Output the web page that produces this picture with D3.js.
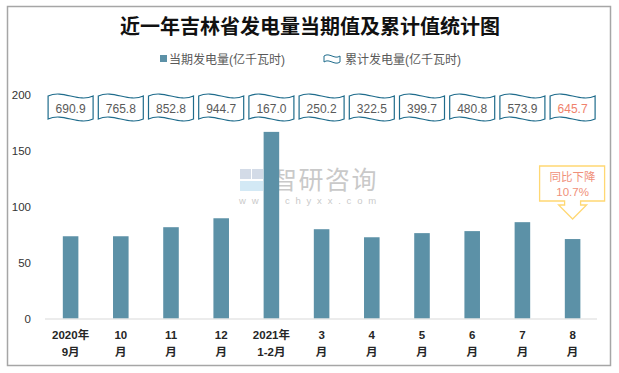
<!DOCTYPE html>
<meta charset="utf-8">
<title>近一年吉林省发电量当期值及累计值统计图</title>
<style>
  body { margin: 0; background: #fff; }
  svg text { font-family: "Liberation Sans", "Noto Sans CJK SC", sans-serif; }
</style>
<body>
<script src="https://d3js.org/d3.v7.min.js"></script>
<script>
// data
const monthTop = ["2020年", "10", "11", "12", "2021年", "3", "4", "5", "6", "7", "8"];
const monthBottom = ["9月", "月", "月", "月", "1-2月", "月", "月", "月", "月", "月", "月"];
const current = [73.6, 73.6, 81.7, 89.7, 167.0, 79.9, 72.7, 76.4, 78.2, 86.2, 71.1];
const cumulative = [690.9, 765.8, 852.8, 944.7, 167.0, 250.2, 322.5, 399.7, 480.8, 573.9, 645.7];
const yTicks = [0, 50, 100, 150, 200];

const W = 619, H = 373;
const barColor = "#5c91a7";
const waveColor = "#1f6c8c";

const svg = d3.select("body").append("svg")
    .attr("width", W).attr("height", H);

svg.append("rect")
    .attr("x", 7.5).attr("y", 6.5).attr("width", 603).attr("height", 359)
    .attr("fill", "#fff").attr("stroke", "#a6a6a6").attr("stroke-width", 1.5);

// title
svg.append("text")
    .attr("x", 310).attr("y", 34)
    .attr("text-anchor", "middle")
    .attr("font-size", 20).attr("font-weight", "bold")
    .attr("fill", "#111")
    .style("font-family", "'Noto Sans CJK SC', sans-serif")
    .text("近一年吉林省发电量当期值及累计值统计图");

// wave shape (excel style)
function wavePath(x, y, w, h, a) {
  return `M${x},${y + a} C${x + w * 0.33},${y - a} ${x + w * 0.67},${y + 3 * a} ${x + w},${y + a}` +
    ` L${x + w},${y + h - a} C${x + w * 0.67},${y + h + a} ${x + w * 0.33},${y + h - 3 * a} ${x},${y + h - a} Z`;
}

// legend
const lg = svg.append("g").attr("font-size", 12).attr("fill", "#595959");
lg.append("rect").attr("x", 160).attr("y", 55).attr("width", 7).attr("height", 7).attr("fill", barColor);
lg.append("text").attr("x", 169).attr("y", 63.5).text("当期发电量(亿千瓦时)");
lg.append("path").attr("d", wavePath(324, 54, 16, 10, 2))
    .attr("fill", "#fff").attr("stroke", waveColor).attr("stroke-width", 1);
lg.append("text").attr("x", 345).attr("y", 63.5).text("累计发电量(亿千瓦时)");

// scales
const x = d3.scaleBand().domain(d3.range(monthTop.length)).range([45.5, 597.7]).paddingInner(0.69).paddingOuter(0.345);
const y = d3.scaleLinear().domain([0, 200]).range([318.5, 95]);
const cx = i => x(i) + x.bandwidth() / 2;

// y tick labels
svg.append("g").selectAll("text").data(yTicks).join("text")
    .attr("x", 31).attr("y", d => y(d)).attr("dy", "0.35em")
    .attr("text-anchor", "end").attr("font-size", 11.5).attr("fill", "#333")
    .text(d => d);

// watermark
const wm = svg.append("g").attr("opacity", 0.45);
wm.append("rect").attr("x", 240).attr("y", 169).attr("width", 11).attr("height", 10).attr("fill", "#9fb0cc");
wm.append("rect").attr("x", 252).attr("y", 169).attr("width", 11).attr("height", 10).attr("fill", "#9fb0cc");
wm.append("rect").attr("x", 240).attr("y", 181).attr("width", 23).attr("height", 10).attr("fill", "#9fd0ea");
wm.append("text").attr("x", 272).attr("y", 189).attr("font-size", 25)
    .attr("fill", "#888").style("font-family", "'Noto Sans CJK SC', sans-serif")
    .attr("letter-spacing", 1.5).text("智研咨询");
wm.append("text").attr("x", 239).attr("y", 204).attr("font-size", 9.5)
    .attr("fill", "#888").attr("letter-spacing", 5.8).text("www.chyxx.com");

// bars
svg.append("g").selectAll("rect").data(current).join("rect")
    .attr("x", (d, i) => x(i)).attr("width", x.bandwidth())
    .attr("y", d => y(d)).attr("height", d => y(0) - y(d))
    .attr("fill", barColor);

// x axis line
svg.append("line")
    .attr("x1", 45).attr("x2", 597).attr("y1", 319).attr("y2", 319)
    .attr("stroke", "#d9d9d9").attr("stroke-width", 1.2);

// category labels
const xl = svg.append("g").attr("font-size", 11.5).attr("font-weight", "bold")
    .attr("fill", "#262626").attr("text-anchor", "middle");
xl.selectAll("text.t").data(monthTop).join("text").attr("class", "t")
    .attr("x", (d, i) => cx(i)).attr("y", 339).text(d => d);
xl.selectAll("text.b").data(monthBottom).join("text").attr("class", "b")
    .attr("x", (d, i) => cx(i)).attr("y", 356).text(d => d);

// cumulative wave boxes
const boxes = svg.append("g").selectAll("g").data(cumulative).join("g");
boxes.append("path")
    .attr("d", (d, i) => wavePath(cx(i) - 22.5, 92.5, 45, 30, 3.5))
    .attr("fill", "#fff").attr("stroke", waveColor).attr("stroke-width", 1.2);
boxes.append("text")
    .attr("x", (d, i) => cx(i)).attr("y", 109).attr("dy", "0.35em")
    .attr("text-anchor", "middle").attr("font-size", 12)
    .attr("fill", (d, i) => i === cumulative.length - 1 ? "#f0826c" : "#595959")
    .text(d => d.toFixed(1));

// yoy annotation on last bar
const lx = cx(current.length - 1);
const ann = svg.append("g");
ann.append("path")
    .attr("d", `M${lx - 33},166 H${lx + 32} V201 H${lx + 8} V205 H${lx + 14} L${lx},219 L${lx - 14},205 H${lx - 8} V201 H${lx - 33} Z`)
    .attr("fill", "#fff").attr("stroke", "#ffd873").attr("stroke-width", 1.3);
ann.append("text").attr("x", lx).attr("y", 181).attr("text-anchor", "middle")
    .attr("font-size", 11.5).attr("fill", "#f0907a").text("同比下降");
ann.append("text").attr("x", lx).attr("y", 196).attr("text-anchor", "middle")
    .attr("font-size", 11.5).attr("fill", "#f0907a").text("10.7%");
</script>
</body>
